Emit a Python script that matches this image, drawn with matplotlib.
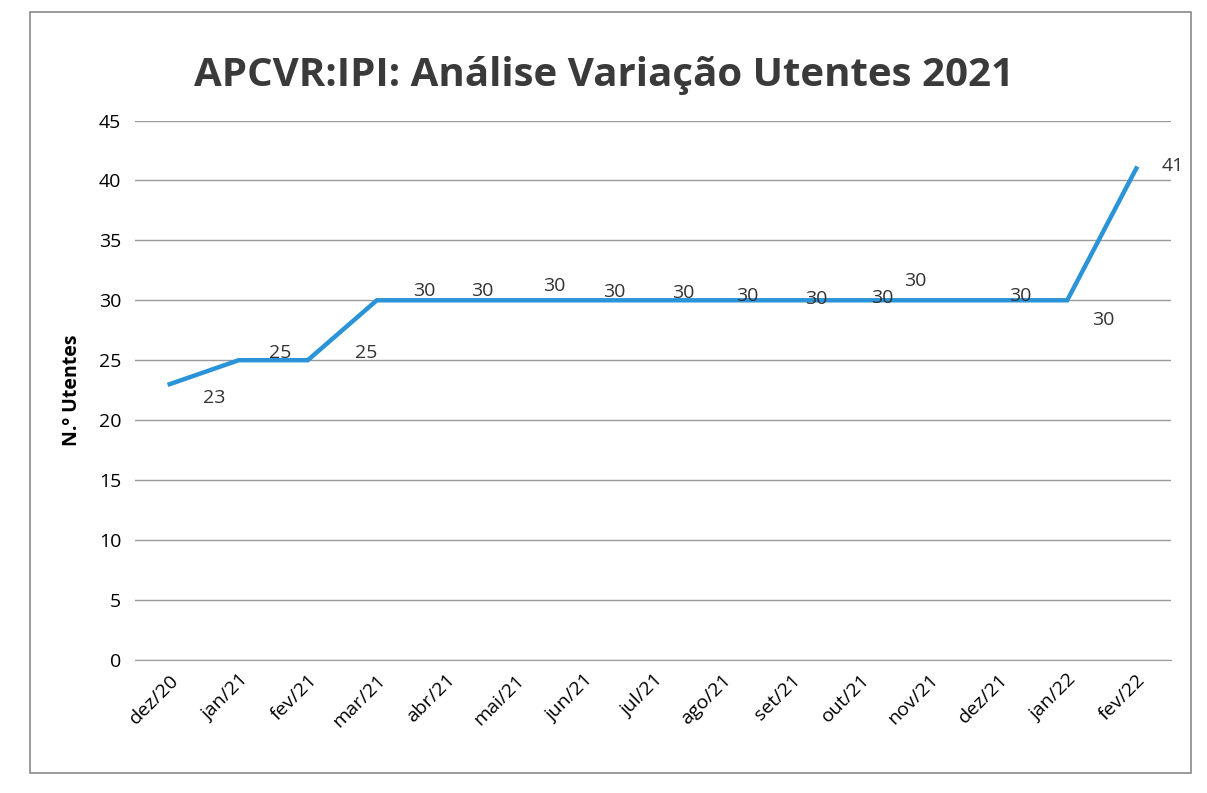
import matplotlib.pyplot as plt
import numpy as np

months = ["dez/20", "jan/21", "fev/21", "mar/21", "abr/21", "mai/21", "jun/21", "jul/21",
          "ago/21", "set/21", "out/21", "nov/21", "dez/21", "jan/22", "fev/22"]
utentes = [23, 25, 25, 30, 30, 30, 30, 30, 30, 30, 30, 30, 30, 30, 41]

# label offsets in points (dx, dy), as placed in the original
label_offsets = [(32, -10), (30, 5), (42, 5), (34, 7), (26, 7), (28, 10), (22, 6), (22, 5),
                 (18, 3), (18, 1), (16, 2), (-10, 14), (16, 3), (26, -14), (26, 2)]

plt.rcParams["font.family"] = ["Open Sans", "DejaVu Sans"]

fig = plt.figure(figsize=(12.07, 7.93), dpi=100)
ax = fig.add_axes([0.112, 0.168, 0.858, 0.68])

x = np.arange(len(months))
ax.plot(x, utentes, color="#2b93d8", linewidth=3.2, solid_joinstyle="miter")

for xi, v, (dx, dy) in zip(x, utentes, label_offsets):
    ax.annotate(str(v), (xi, v), xytext=(dx, dy), textcoords="offset points",
                ha="center", va="center", fontsize=14, color="#333333")

ax.set_xlim(-0.5, len(months) - 0.5)
ax.set_ylim(0, 45)
ax.set_yticks(np.arange(0, 46, 5))
ax.set_xticks(x)
ax.set_xticklabels(months, rotation=45, ha="right", rotation_mode="anchor", fontsize=14)
ax.tick_params(axis="y", labelsize=14, length=0, pad=10)
ax.tick_params(axis="x", length=0, pad=8)
ax.grid(axis="y", color="#9a9a9a", linewidth=1)
ax.set_axisbelow(True)
for side in ["top", "right", "left"]:
    ax.spines[side].set_visible(False)
ax.spines["bottom"].set_color("#9a9a9a")

ax.set_ylabel("N.º Utentes", fontsize=14, fontweight="bold", labelpad=12)
fig.suptitle("APCVR:IPI: Análise Variação Utentes 2021", fontsize=29, fontweight="bold",
             color="#3a3a3a", y=0.93)

border = plt.Rectangle((0.025, 0.025), 0.962, 0.96, transform=fig.transFigure,
                       fill=False, edgecolor="#8a8a8a", linewidth=1.2)
fig.patches.append(border)

fig.savefig("out.png", dpi=100)
